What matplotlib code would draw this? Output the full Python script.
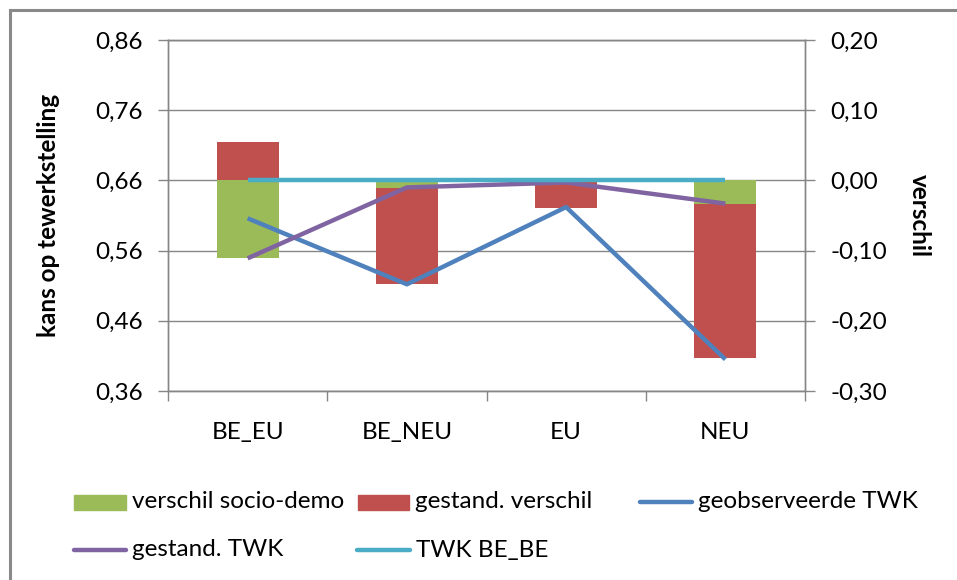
import numpy as np
import matplotlib.pyplot as plt
from matplotlib.lines import Line2D
from matplotlib.patches import Rectangle
from matplotlib.ticker import FuncFormatter

plt.rcParams['font.family'] = ['Lato', 'DejaVu Sans']

# data
categories = ['BE_EU', 'BE_NEU', 'EU', 'NEU']
verschil_socio = [-0.110, -0.011, -0.001, -0.033]    # rechter as
gestand_verschil = [0.055, -0.137, -0.038, -0.220]  # rechter as
geobs_twk = [0.606, 0.512, 0.622, 0.405]            # linker as
gestand_twk = [0.549, 0.650, 0.657, 0.627]
twk_be_be = [0.66, 0.66, 0.66, 0.66]

c_green = '#9BBB59'
c_red = '#C0504D'
c_blue = '#4F81BD'
c_purple = '#8064A2'
c_cyan = '#4BACC6'
c_grid = '#868686'
fs = 17.5

W, H = 957, 580
fig = plt.figure(figsize=(W / 100, H / 100), dpi=100)

def fx(px):
    return px / W

def fy(px):
    return 1 - px / H

ax2 = fig.add_axes([fx(168), fy(391), fx(805) - fx(168), fy(40) - fy(391)])
ax = ax2.twinx()
# lijnen boven de staven
ax.set_zorder(ax2.get_zorder() + 1)
ax.patch.set_visible(False)
# twinx zet ticks rechts; omdraaien
ax.yaxis.tick_left()
ax.yaxis.set_label_position('left')
ax2.yaxis.tick_right()
ax2.yaxis.set_label_position('right')

x = np.arange(len(categories))
g = np.array(verschil_socio)
r = np.array(gestand_verschil)
r_bottom = np.where(np.sign(r) == np.sign(g), g, 0)

ax2.bar(x, g, width=0.39, color=c_green, zorder=2)
ax2.bar(x, r, bottom=r_bottom, width=0.39, color=c_red, zorder=2)

ax.plot(x, geobs_twk, color=c_blue, lw=3.2, solid_capstyle='butt')
ax.plot(x, gestand_twk, color=c_purple, lw=3.2, solid_capstyle='butt')
ax.plot(x, twk_be_be, color=c_cyan, lw=3.2, solid_capstyle='butt')

ax.set_xlim(-0.5, 3.5)
ax.set_ylim(0.36, 0.86)
ax2.set_ylim(-0.30, 0.20)
ax.set_yticks(np.arange(0.36, 0.87, 0.10))
ax2.set_yticks(np.arange(-0.30, 0.21, 0.10))

comma = FuncFormatter(lambda v, p: ('%.2f' % v).replace('.', ',').replace('-0,00', '0,00'))
ax.yaxis.set_major_formatter(comma)
ax2.yaxis.set_major_formatter(comma)

ax2.set_xticks(np.arange(-0.5, 4, 1))
ax2.set_xticklabels([])
ax2.set_xticks(x, minor=True)
ax2.set_xticklabels(categories, minor=True)
ax2.tick_params(axis='x', which='major', length=7, width=1, color=c_grid)
ax2.tick_params(axis='x', which='minor', length=0, pad=22, labelsize=fs)
ax.tick_params(axis='x', which='both', bottom=False, labelbottom=False)

ax.tick_params(axis='y', length=7, width=1, color=c_grid, pad=11, labelsize=fs)
ax2.tick_params(axis='y', length=7, width=1, color=c_grid, pad=11, labelsize=fs)

ax2.set_axisbelow(True)
ax2.grid(axis='y', color=c_grid, lw=1, zorder=0)

for a in (ax, ax2):
    for s in a.spines.values():
        s.set_color(c_grid)
        s.set_linewidth(1)

ax.set_ylabel('kans op tewerkstelling', fontsize=fs, fontweight='bold')
ax.yaxis.set_label_coords(-0.17, 0.5)
ax2.set_ylabel('verschil', fontsize=fs, fontweight='bold', rotation=270, va='center')
ax2.yaxis.set_label_coords(1.18, 0.5)

# legenda, handmatig geplaatst
def patch_entry(x0, x1, yc, color, label):
    fig.patches.append(Rectangle((fx(x0), fy(yc + 7.5)), fx(x1) - fx(x0), fy(yc - 7.5) - fy(yc + 7.5),
                                 transform=fig.transFigure, color=color))
    fig.text(fx(x1 + 6), fy(yc), label, fontsize=fs, va='center', ha='left')

def line_entry(x0, x1, yc, color, label):
    fig.lines.append(Line2D([fx(x0), fx(x1)], [fy(yc), fy(yc)], transform=fig.transFigure,
                            color=color, lw=3.2, solid_capstyle='round'))
    fig.text(fx(x1 + 6), fy(yc), label, fontsize=fs, va='center', ha='left')

patch_entry(74, 126, 502, c_green, 'verschil socio-demo')
patch_entry(358, 409, 502, c_red, 'gestand. verschil')
line_entry(640, 692, 502, c_blue, 'geobserveerde TWK')
line_entry(74, 126, 550, c_purple, 'gestand. TWK')
line_entry(357, 410, 550, c_cyan, 'TWK BE_BE')

# kader
fig.lines.append(Line2D([fx(10), fx(957)], [fy(10), fy(10)], transform=fig.transFigure, color='#898989', lw=2.2))
fig.lines.append(Line2D([fx(10), fx(10)], [fy(10), fy(580)], transform=fig.transFigure, color='#898989', lw=2.2))

fig.savefig('out.png', dpi=100)
